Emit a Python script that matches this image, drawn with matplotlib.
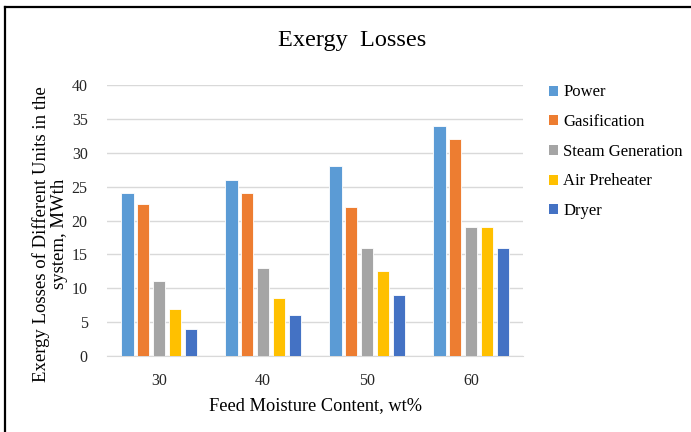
import matplotlib.pyplot as plt
import numpy as np
from matplotlib.lines import Line2D
from matplotlib.patches import Patch

plt.rcParams['font.family'] = ['Liberation Serif', 'DejaVu Serif']

moisture = ['30', '40', '50', '60']
power = [24, 26, 28, 34]
gasification = [22.5, 24, 22, 32]
steam_generation = [11, 13, 16, 19]
air_preheater = [7, 8.5, 12.5, 19]
dryer = [4, 6, 9, 16]

series = [
    ('Power', power, '#5B9BD5'),
    ('Gasification', gasification, '#ED7D31'),
    ('Steam Generation', steam_generation, '#A5A5A5'),
    ('Air Preheater', air_preheater, '#FFC000'),
    ('Dryer', dryer, '#4472C4'),
]

fig = plt.figure(figsize=(6.91, 4.32), dpi=100)
ax = fig.add_axes([0.155, 0.176, 0.602, 0.627])

x = np.arange(len(moisture))
step = 0.153
width = 0.12
for i, (name, vals, color) in enumerate(series):
    ax.bar(x + (i - 2) * step, vals, width, color=color, edgecolor='white',
           linewidth=0.6, label=name, zorder=3)

ax.set_xlim(-0.5, 3.5)
ax.set_ylim(0, 40)
ax.set_yticks(range(0, 41, 5))
ax.set_xticks(x)
ax.set_xticklabels(moisture)
ax.grid(axis='y', color='#D9D9D9', linewidth=1, zorder=0)
for side in ['top', 'right', 'left']:
    ax.spines[side].set_visible(False)
ax.spines['bottom'].set_color('#D9D9D9')
ax.tick_params(axis='both', length=0, labelsize=11.5, colors='#262626')
ax.tick_params(axis='y', pad=14)
ax.tick_params(axis='x', pad=12)

ax.set_xlabel('Feed Moisture Content, wt%', fontsize=13.2, labelpad=6)
ax.set_ylabel('Exergy Losses of Different Units in the\nsystem, MWth',
              fontsize=13.5, linespacing=1.05)
ax.yaxis.set_label_coords(-0.095, 0.45)
fig.text(0.51, 0.907, 'Exergy  Losses', ha='center', va='center', fontsize=17.5)

handles = [Patch(facecolor=c, edgecolor='none') for _, _, c in series]
fig.legend(handles, [s[0] for s in series], loc='upper left',
           bbox_to_anchor=(0.785, 0.82), frameon=False, fontsize=12,
           handlelength=0.55, handleheight=0.55, handletextpad=0.3,
           labelspacing=0.82, borderaxespad=0)

# outer frame (left and top edges)
fig.add_artist(Line2D([0.0075, 0.0075], [0, 0.983], color='black', lw=1.6,
                      transform=fig.transFigure))
fig.add_artist(Line2D([0.0075, 1], [0.983, 0.983], color='black', lw=1.6,
                      transform=fig.transFigure))

fig.savefig('out.png', dpi=100)
